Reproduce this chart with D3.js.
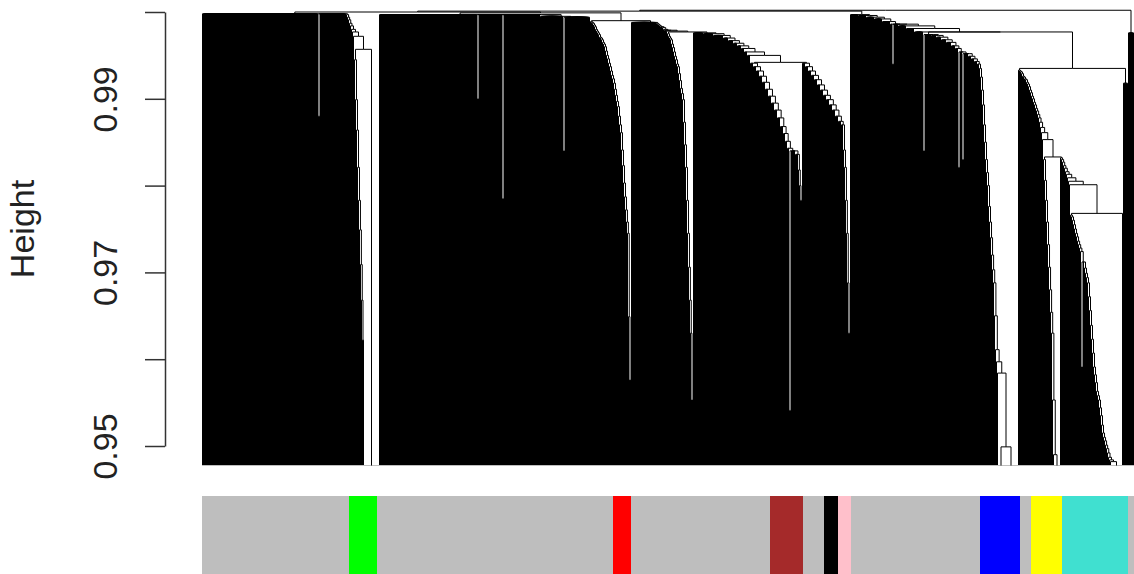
<!DOCTYPE html>
<html>
<head>
<meta charset="utf-8">
<script src="https://cdn.jsdelivr.net/npm/d3@7"></script>
<style>
  html, body { margin: 0; padding: 0; background: #fff; }
  svg { display: block; }
</style>
</head>
<body>
<svg id="chart" width="1134" height="574"></svg>
<script>
// ---------------------------------------------------------------
// Gene dendrogram (1 - TOM dissimilarity) with module colour bar
// ---------------------------------------------------------------

// Height axis
const heightTicks = [0.95, 0.96, 0.97, 0.98, 0.99, 1.00];
const heightTickLabels = ["0.95", "", "0.97", "", "0.99", ""];

// Module colour bar, in dendrogram leaf order (number of genes per run)
const moduleColors = ["grey", "green", "grey", "red", "grey", "brown", "grey", "black",
                      "pink", "grey", "blue", "grey", "yellow", "turquoise", "grey"];
const moduleSizes  = [147, 28, 236, 18, 139, 33, 21, 14, 13, 129, 40, 11, 31, 66, 6];

// Branch chains, left to right.
//   number   -> one gene joining the rest of the branch at that height
//   [n, h]   -> n genes merged together at height h
//   "name"   -> a sub-cluster listed in clusterMerges
const chainA = [[116, 0.9998], [2, 0.9880], [26, 0.9998],
  0.9997, 0.9994, 0.9991, 0.9987, 0.9984, 0.9980, 0.9977, 0.9972, "A2"];
const chainAtail = [0.9945, 0.9899, 0.9864, 0.9821, 0.9783, 0.9749, 0.9709, 0.9668, 0.9622, 0.9576];
const chainAgap = [[15, 0.9465]];
const chainB = [[98, 0.9997], [2, 0.9900], [23, 0.9997], [2, 0.9785], [36, 0.9997],
  [23, 0.9995], [2, 0.9840], [25, 0.9994]];
const chainB2 = [0.9989, 0.9988, 0.9987, 0.9985, 0.9983, 0.9980, 0.9978, 0.9976, 0.9974, 0.9971,
  0.9970, 0.9968, 0.9965, 0.9963, 0.9960, 0.9955, 0.9950, 0.9946, 0.9941, 0.9937,
  0.9932, 0.9927, 0.9923, 0.9918, 0.9911, 0.9904, 0.9897, 0.9891, 0.9880, 0.9870,
  0.9861, 0.9841, 0.9823, 0.9803, 0.9787, 0.9772, 0.9758, 0.9745, 0.9649, 0.9576, 0.9507];
const chainC = [[25, 0.9988], 0.9987, 0.9986, 0.9985, 0.9984, 0.9983, 0.9983, 0.9982,
  0.9980, 0.9979, 0.9979, 0.9978, "CD"];
const chainC2 = [0.9975, 0.9972, 0.9970, 0.9968, 0.9963, 0.9959, 0.9954, 0.9949, 0.9945, 0.9940,
  0.9937, 0.9929, 0.9921, 0.9912, 0.9906, 0.9899, 0.9873, 0.9847, 0.9821, 0.9783,
  0.9745, 0.9706, 0.9668, 0.9630, 0.9553, 0.9495];
const chainD = [[10, 0.9976], [10, 0.9975], [10, 0.9973], [5, 0.9970], [5, 0.9967],
  [4, 0.9964], [4, 0.9961], [3, 0.9958], [3, 0.9954], [3, 0.9950], "DE"];
const chainDr = [[3, 0.9941], [3, 0.9937], [3, 0.9932], [3, 0.9926], [3, 0.9919], [3, 0.9911],
  [3, 0.9903], [3, 0.9895], [3, 0.9887], [3, 0.9878], [3, 0.9868], [2, 0.9860], [2, 0.9851],
  [2, 0.9843], [2, 0.9541], [4, 0.9840], [3, 0.9836], 0.9818, 0.9800, 0.9783, 0.9668];
const chainE = [[3, 0.9941], [3, 0.9937], [3, 0.9932], [3, 0.9927], [3, 0.9922], [3, 0.9916],
  [3, 0.9910], [3, 0.9904], [3, 0.9899], [3, 0.9893], [3, 0.9887], [3, 0.9880], [3, 0.9874],
  [2, 0.9870], 0.9841, 0.9821, 0.9783, 0.9745, 0.9688, 0.9630, 0.9553];
const chainF = [[8, 0.9997], [8, 0.9996], [8, 0.9994], [8, 0.9992], [8, 0.9989], [2, 0.9986],
  [2, 0.9940], [4, 0.9986], [8, 0.9984], [8, 0.9981], [9, 0.9977], "FR"];
const chainFb = [[2, 0.9840], [6, 0.9974], [5, 0.9973], [5, 0.9971], [5, 0.9968], [5, 0.9965],
  [4, 0.9961], [3, 0.9958], [2, 0.9821], [2, 0.9954], [2, 0.9830], [4, 0.9952], [3, 0.9949],
  [3, 0.9946], [3, 0.9943], [2, 0.9940], 0.9935, 0.9925, 0.9910, 0.9893, 0.9870, 0.9850,
  0.9830, 0.9815, 0.9800, 0.9776, 0.9758, 0.9740, 0.9720, 0.9703, 0.9688, 0.9650, 0.9611,
  0.9597, 0.9584, "FbT"];
const chainFh1 = [[6, 0.9465]];
const chainFh2 = [[14, 0.9465]];
const chainH = [0.9933, 0.9932, 0.9931, 0.9929, 0.9926, 0.9925, 0.9923, 0.9922, 0.9919, 0.9917,
  0.9914, 0.9910, 0.9907, 0.9903, 0.9900, 0.9896, 0.9893, 0.9889, 0.9886, 0.9882,
  0.9878, 0.9873, 0.9867, 0.9861, 0.9853, "HrI"];
const chainHr = [0.9830, 0.9806, 0.9783, 0.9758, 0.9732, 0.9706, 0.9680, 0.9654, 0.9630, 0.9553,
  0.9490, [6, 0.9465]];
const chainI = [0.9832, 0.9830, 0.9827, 0.9823, 0.9820, 0.9816, 0.9813, 0.9809, 0.9805, 0.9801, "Ir"];
const chainIm = [0.9766, 0.9764, 0.9760, 0.9755, 0.9750, 0.9745, 0.9741, 0.9736, 0.9732, 0.9728,
  0.9724, [2, 0.9591], 0.9712, 0.9705, 0.9699, 0.9694, 0.9688, 0.9672, 0.9656, 0.9639,
  0.9623, 0.9607, 0.9591, 0.9582, 0.9573, 0.9563, 0.9558, 0.9553, 0.9544, 0.9535,
  0.9524, 0.9515, 0.9510, 0.9506, 0.9501, 0.9497, 0.9492, 0.9487, 0.9484, 0.9482, [11, 0.9465]];
const chainIleaf = [0.9768];
const chainK1 = [[5, 0.9918]];
const chainK2 = [[6, 0.9976]];

// Cluster merges: [name, left, right, height]
const clusterMerges = [
  ["A2",   "Atail", "Agap",  0.9957],
  ["CD",   "C2",    "D",     0.9977],
  ["DE",   "Dr",    "E",     0.9942],
  ["BC2",  "B2",    "C",     0.9990],
  ["Ball", "B",     "BC2",   0.9999],
  ["AB",   "A",     "Ball",  1.0000],
  ["FbT",  "Fh1",   "Fh2",   0.9499],
  ["Ir",   "Im",    "Ileaf", 0.9768],
  ["HrI",  "Hr",    "I",     0.9833],
  ["HIK1", "H",     "K1",    0.9935],
  ["FR",   "Fb",    "HIK1",  0.9977],
  ["Main", "AB",    "F",     1.0001],
  ["root", "Main",  "K2",    1.0002]
];

const rColors = {
  grey: "#bebebe", green: "#00ff00", red: "#ff0000", brown: "#a52a2a", black: "#000000",
  pink: "#ffc0cb", blue: "#0000ff", yellow: "#ffff00", turquoise: "#40e0d0"
};

// ---------------------------------------------------------------
// Tree construction
// ---------------------------------------------------------------
const chains = {
  A: chainA, Atail: chainAtail, Agap: chainAgap, B: chainB, B2: chainB2, C: chainC, C2: chainC2,
  D: chainD, Dr: chainDr, E: chainE, F: chainF, Fb: chainFb, Fh1: chainFh1, Fh2: chainFh2,
  H: chainH, Hr: chainHr, I: chainI, Im: chainIm, Ileaf: chainIleaf, K1: chainK1, K2: chainK2
};
const mergeByName = new Map(clusterMerges.map(m => [m[0], m]));

function leafNode(top) { return { top }; }

function itemNode(item) {
  if (typeof item === "number") return leafNode(item);
  if (typeof item === "string") return buildCluster(item);
  const [n, h] = item;
  if (n === 1) return leafNode(h);
  return { h, top: h, children: d3.range(n).map(() => leafNode(h)) };
}

function buildChain(items) {
  const nodes = items.map(itemNode);
  let node = nodes[nodes.length - 1];
  for (let i = nodes.length - 2; i >= 0; i--) {
    const h = Math.max(nodes[i].top, node.top);
    node = { h, top: h, children: [nodes[i], node] };
  }
  return node;
}

function buildCluster(name) {
  if (mergeByName.has(name)) {
    const [, a, b, h] = mergeByName.get(name);
    return { h, top: h, children: [buildCluster(a), buildCluster(b)] };
  }
  return buildChain(chains[name]);
}

const tree = d3.hierarchy(buildCluster("root"));
const leaves = tree.leaves();

// ---------------------------------------------------------------
// Scales and layout
// ---------------------------------------------------------------
const svg = d3.select("#chart");
const plotLeft = 202.5, plotRight = 1133.5, plotBottom = 465.5;

const x = d3.scaleLinear().domain([0, leaves.length - 1]).range([plotLeft, plotRight]);
const y = d3.scaleLinear().domain([0.95, 1.00]).range([446, 12]);

leaves.forEach((d, i) => { d.x = x(i); });
tree.eachAfter(d => {
  if (d.children) d.x = (d.children[0].x + d.children[d.children.length - 1].x) / 2;
});
const nodeY = d => d.children ? y(d.data.h) : plotBottom;

// ---------------------------------------------------------------
// Dendrogram
// ---------------------------------------------------------------
svg.append("defs").append("clipPath").attr("id", "plot-clip")
  .append("rect").attr("x", 195).attr("y", 0).attr("width", 945).attr("height", plotBottom);

svg.append("g")
  .attr("clip-path", "url(#plot-clip)")
  .attr("fill", "none")
  .attr("stroke", "#000")
  .attr("stroke-width", 1)
  .selectAll("path")
  .data(tree.descendants().slice(1))
  .join("path")
  .attr("d", d => `M${d.x},${nodeY(d)}V${y(d.parent.data.h)}H${d.parent.x}`);

// ---------------------------------------------------------------
// Module colour bar
// ---------------------------------------------------------------
const starts = [0, ...d3.cumsum(moduleSizes)].slice(0, moduleSizes.length);
svg.append("g")
  .selectAll("rect")
  .data(moduleColors.map((c, i) => ({ color: c, start: starts[i], size: moduleSizes[i] })))
  .join("rect")
  .attr("x", d => x(d.start) - 0.5)
  .attr("width", d => x(d.start + d.size - 1) - x(d.start) + 1)
  .attr("y", 496)
  .attr("height", 78)
  .attr("fill", d => rColors[d.color]);

// ---------------------------------------------------------------
// Height axis
// ---------------------------------------------------------------
const font = "'Liberation Sans', Arial, Helvetica, sans-serif";
const axis = d3.axisLeft(y)
  .tickValues(heightTicks)
  .tickFormat((d, i) => heightTickLabels[i])
  .tickSize(20)
  .tickSizeOuter(0);

const gAxis = svg.append("g").attr("transform", "translate(165,0)").call(axis);
gAxis.selectAll("path, line").attr("stroke", "#333").attr("stroke-width", 1.5);
gAxis.selectAll("text")
  .attr("transform", "rotate(-90)")
  .attr("x", 0)
  .attr("y", -48)
  .attr("dy", 0)
  .attr("text-anchor", "middle")
  .attr("fill", "#222")
  .style("font-family", font)
  .style("font-size", "34px");

svg.append("text")
  .attr("transform", "translate(34,229) rotate(-90)")
  .attr("text-anchor", "middle")
  .attr("fill", "#222")
  .style("font-family", font)
  .style("font-size", "34px")
  .text("Height");
</script>
</body>
</html>
